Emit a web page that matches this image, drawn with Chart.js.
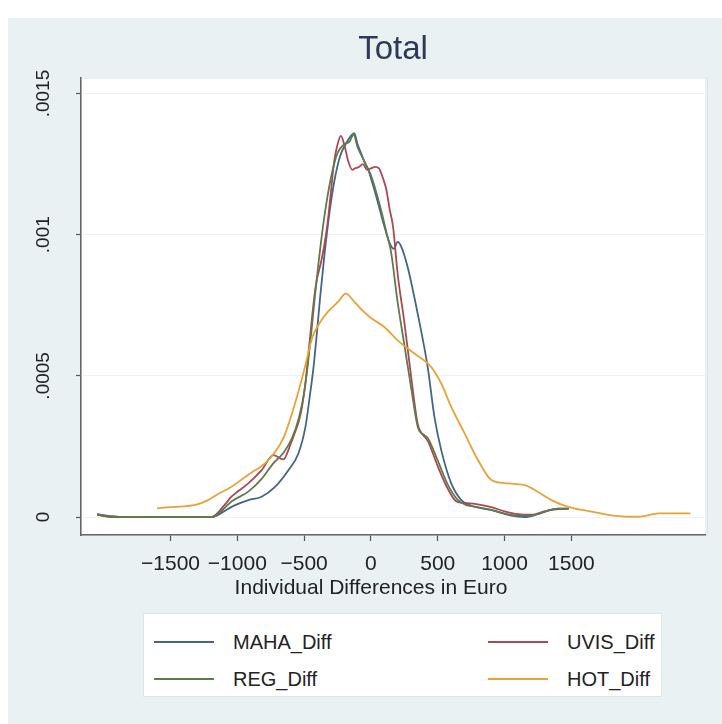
<!DOCTYPE html>
<html><head><meta charset="utf-8">
<script src="https://cdn.jsdelivr.net/npm/chart.js@4.4.1/dist/chart.umd.min.js"></script>
<style>
html,body{margin:0;padding:0;background:#fff;width:722px;height:724px;overflow:hidden;}
#bg{position:absolute;left:8px;top:18px;width:714px;height:706px;background:#e9f1f3;}
#c{position:absolute;left:0;top:0;}
#legend{position:absolute;left:135px;top:595px;width:519px;height:84px;background:#fff;border:1px solid #dde6e8;box-sizing:border-box;font-family:'Liberation Sans',Arial,sans-serif;font-size:20px;color:#222;}
.item{position:absolute;height:22px;display:flex;align-items:center;white-space:nowrap;}
.sw{width:60px;height:2px;margin-right:19px;}
</style></head><body>
<div id="bg"><canvas id="c" width="714" height="706"></canvas><div id="legend"></div></div>
<script>
const seriesNames = ['MAHA_Diff','UVIS_Diff','REG_Diff','HOT_Diff'];
const seriesColors = ['#44658a','#ad4753','#5f7b4c','#e9a236'];

const mahaX = [-2050,-1950,-1800,-1500,-1300,-1190,-1100,-1044,-918,-818,-718,-618,-543,-490,-460,-430,-405,-380,-350,-310,-270,-230,-190,-150,-125,-100,-75,-50,-20,0,25,60,100,140,170,200,225,275,350,425,475,526,601,676,750,900,1050,1150,1250,1350,1480];
const mahaY = [0.1e-4,0.03e-4,0,0,0,0,0.2e-4,0.36e-4,0.6e-4,0.72e-4,1.07e-4,1.66e-4,2.25e-4,3.2e-4,4.2e-4,5.3e-4,6.5e-4,7.8e-4,9.2e-4,10.8e-4,12.0e-4,12.8e-4,13.2e-4,13.5e-4,13.6e-4,13.2e-4,12.9e-4,12.6e-4,12.3e-4,12.0e-4,11.6e-4,11.0e-4,10.3e-4,9.7e-4,9.5e-4,9.75e-4,9.6e-4,8.85e-4,7.2e-4,5.3e-4,3.55e-4,2.37e-4,1.19e-4,0.6e-4,0.4e-4,0.25e-4,0.05e-4,0,0.1e-4,0.25e-4,0.3e-4];

const uvisX = [-2050,-1950,-1800,-1500,-1194,-1100,-1044,-918,-818,-731,-656,-600,-576,-525,-488,-463,-438,-413,-375,-350,-325,-300,-275,-250,-225,-200,-170,-140,-120,-90,-60,-30,0,30,60,90,115,140,165,200,250,300,350,375,425,500,575,640,700,800,900,1000,1100,1200,1300,1400,1480];
const uvisY = [0.08e-4,0,0,0,0,0.4e-4,0.72e-4,1.19e-4,1.66e-4,2.19e-4,2.04e-4,2.6e-4,2.9e-4,3.67e-4,4.85e-4,6.02e-4,7.2e-4,8.2e-4,9.0e-4,9.6e-4,10.4e-4,11.5e-4,12.6e-4,13.2e-4,13.5e-4,13.2e-4,12.6e-4,12.3e-4,12.35e-4,12.4e-4,12.5e-4,12.3e-4,12.35e-4,12.4e-4,12.35e-4,12.0e-4,11.6e-4,10.9e-4,10.3e-4,8.6e-4,6.9e-4,5.0e-4,3.3e-4,3.0e-4,2.7e-4,1.8e-4,1.0e-4,0.55e-4,0.5e-4,0.45e-4,0.35e-4,0.2e-4,0.1e-4,0.08e-4,0.2e-4,0.3e-4,0.3e-4];

const regX = [-2050,-1950,-1800,-1500,-1190,-1100,-1044,-918,-818,-731,-650,-590,-540,-500,-470,-445,-420,-390,-350,-300,-250,-200,-160,-130,-100,-70,-40,0,40,80,120,150,200,250,300,350,400,425,500,575,651,700,800,900,1000,1100,1200,1300,1400,1480];
const regY = [0.08e-4,0.02e-4,0,0,0,0.3e-4,0.55e-4,0.9e-4,1.35e-4,1.9e-4,2.3e-4,2.8e-4,3.5e-4,4.4e-4,5.5e-4,6.6e-4,7.8e-4,9.1e-4,10.6e-4,12.0e-4,12.9e-4,13.2e-4,13.3e-4,13.55e-4,13.1e-4,12.8e-4,12.5e-4,12.1e-4,11.5e-4,10.8e-4,10.0e-4,9.4e-4,7.6e-4,6.1e-4,4.6e-4,3.2e-4,2.9e-4,2.8e-4,2.0e-4,1.15e-4,0.6e-4,0.45e-4,0.35e-4,0.25e-4,0.12e-4,0.05e-4,0.05e-4,0.2e-4,0.3e-4,0.3e-4];

const hotX = [-1600,-1500,-1400,-1300,-1219,-1150,-1044,-918,-793,-726,-651,-576,-500,-438,-380,-325,-250,-188,-120,-60,0,100,200,325,450,526,601,701,801,901,1026,1151,1226,1351,1477,1652,1827,2002,2153,2390];
const hotY = [0.31e-4,0.35e-4,0.38e-4,0.45e-4,0.6e-4,0.8e-4,1.07e-4,1.5e-4,1.9e-4,2.25e-4,2.84e-4,3.9e-4,5.2e-4,6.38e-4,6.9e-4,7.26e-4,7.6e-4,7.91e-4,7.6e-4,7.3e-4,7.05e-4,6.73e-4,6.26e-4,5.79e-4,5.32e-4,4.73e-4,3.9e-4,2.96e-4,2.02e-4,1.31e-4,1.19e-4,1.13e-4,0.96e-4,0.6e-4,0.36e-4,0.19e-4,0.04e-4,0.01e-4,0.13e-4,0.13e-4];

const xTickValues = [-1500,-1000,-500,0,500,1000,1500];
const xTickLabels = ['\u22121500','\u22121000','\u2212500','0','500','1000','1500'];
const yTickValues = [0,0.0005,0.001,0.0015];
const yTickLabels = ['0','.0005','.001','.0015'];
const xRange = [-2170, 2500];
const yRange = [-0.0000637, 0.0015566];
const titleText = 'Total';
const xAxisTitle = 'Individual Differences in Euro';

const FONT = "'Liberation Sans', Arial, Helvetica, sans-serif";
const xs = [mahaX, uvisX, regX, hotX];
const ys = [mahaY, uvisY, regY, hotY];
const orders = [3, 2, 1, 0];

const datasets = seriesNames.map((n, i) => ({
  label: n,
  data: xs[i].map((x, j) => ({x: x, y: ys[i][j]})),
  borderColor: seriesColors[i],
  backgroundColor: seriesColors[i],
  borderWidth: 1.8,
  pointRadius: 0,
  fill: false,
  cubicInterpolationMode: 'monotone',
  order: orders[i]
}));

const plotBg = {
  id: 'plotBg',
  beforeDraw(chart) {
    const {ctx, chartArea: a} = chart;
    ctx.save();
    ctx.fillStyle = '#ffffff';
    ctx.fillRect(a.left, a.top, a.right - a.left, a.bottom - a.top);
    ctx.strokeStyle = '#dce5e8';
    ctx.lineWidth = 1;
    ctx.strokeRect(a.left + 0.5, a.top + 0.5, a.right - a.left + 2, a.bottom - a.top);
    ctx.restore();
  },
  afterDraw(chart) {
    const {ctx} = chart;
    ctx.save();
    ctx.font = '21px ' + FONT;
    ctx.fillStyle = '#222';
    ctx.textAlign = 'center';
    ctx.textBaseline = 'middle';
    ctx.fillText(xAxisTitle, 363, 570);
    ctx.restore();
  }
};

new Chart(document.getElementById('c'), {
  type: 'line',
  data: {datasets},
  plugins: [plotBg],
  options: {
    responsive: false,
    animation: false,
    devicePixelRatio: 1,
    layout: {padding: {top: 0, left: 0, right: 17, bottom: 124}},
    plugins: {
      legend: {display: false},
      tooltip: {enabled: false},
      title: {
        display: true, text: titleText, fullSize: false,
        font: {family: FONT, size: 33, weight: 'normal'},
        color: '#2c3a55',
        padding: {top: 12, bottom: 8}
      }
    },
    scales: {
      x: {
        type: 'linear', min: xRange[0], max: xRange[1],
        afterBuildTicks: s => { s.ticks = xTickValues.map(v => ({value: v})); },
        afterFit: s => { s.height = 65; },
        ticks: {
          font: {family: FONT, size: 21}, color: '#222', padding: 11,
          maxRotation: 0, minRotation: 0, autoSkip: false,
          callback: (v) => xTickLabels[xTickValues.indexOf(v)]
        },
        grid: {drawOnChartArea: false, tickLength: 6, tickColor: '#555', tickWidth: 1.2},
        border: {display: true, color: '#666', width: 1.5}
      },
      y: {
        type: 'linear', min: yRange[0], max: yRange[1],
        afterBuildTicks: s => { s.ticks = yTickValues.map(v => ({value: v})); },
        afterFit: s => { s.width = 73; },
        ticks: {
          font: {family: FONT, size: 19}, color: '#222', padding: 8,
          minRotation: 90, maxRotation: 90, crossAlign: 'center', autoSkip: false,
          callback: (v) => yTickLabels[yTickValues.indexOf(v)]
        },
        grid: {color: '#edf3f4', lineWidth: 1, tickLength: 5, tickColor: '#555', tickWidth: 1.2},
        border: {display: true, color: '#666', width: 1.5}
      }
    }
  }
});

const lg = document.getElementById('legend');
const pos = [[10, 17], [344, 17], [10, 54], [344, 54]];
const legendOrder = [0, 1, 2, 3];
legendOrder.forEach((i, k) => {
  const d = document.createElement('div');
  d.className = 'item';
  d.style.left = pos[k][0] + 'px';
  d.style.top = pos[k][1] + 'px';
  const sw = document.createElement('span');
  sw.className = 'sw';
  sw.style.background = seriesColors[i];
  const t = document.createElement('span');
  t.textContent = seriesNames[i];
  d.appendChild(sw); d.appendChild(t);
  lg.appendChild(d);
});
</script>
</body></html>
